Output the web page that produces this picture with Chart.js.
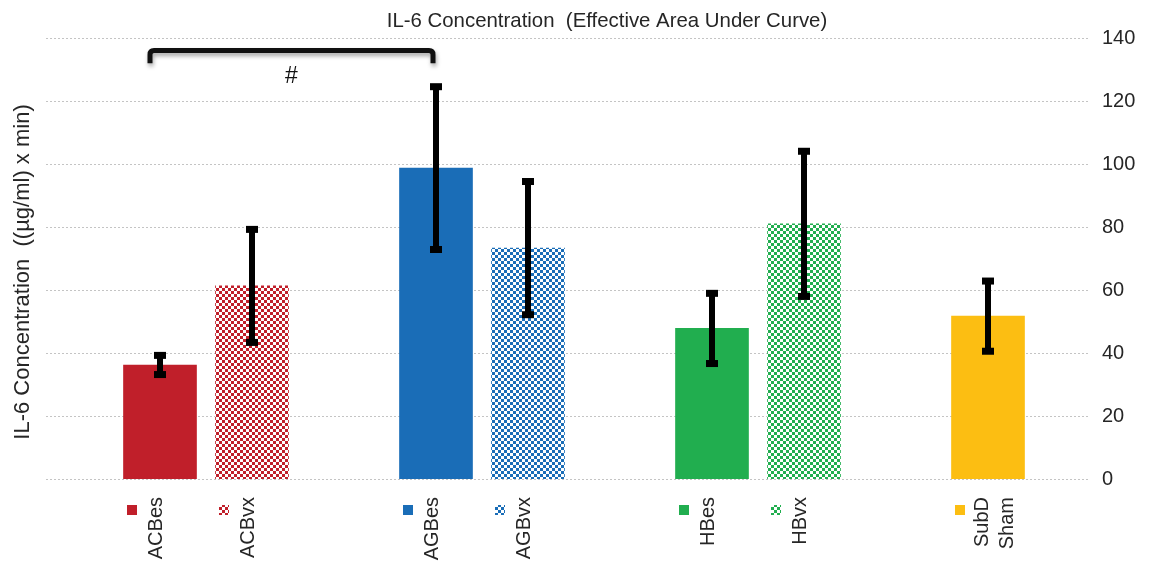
<!DOCTYPE html>
<html>
<head>
<meta charset="utf-8">
<script src="https://cdn.jsdelivr.net/npm/chart.js@4.4.1/dist/chart.umd.min.js"></script>
<style>
  html, body { margin: 0; padding: 0; background: #ffffff; }
  #wrap { width: 1161px; height: 563px; position: relative; }
</style>
</head>
<body>
<div id="wrap"><canvas id="c"></canvas></div>
<script>
// Groups along the x axis (null = empty spacer slot between groups)
const groups = ['ACBes', 'ACBvx', null, 'AGBes', 'AGBvx', null, 'HBes', 'HBvx', null, 'SubD Sham'];
// Mean effective area under curve
const means = [36.2, 61.3, null, 98.7, 73.3, null, 47.8, 81.0, null, 51.7];
// Symmetric error (± value)
const errors = [3.2, 18.1, null, 26.0, 21.3, null, 11.3, 23.2, null, 11.3];
// Fill style per group: solid for "es", checkerboard for "vx"
const baseColors = ['#C01F2A', '#C01F2A', null, '#1A6DB7', '#1A6DB7', null, '#21AE4F', '#21AE4F', null, '#FCBE12'];
const patterned = [false, true, false, false, true, false, false, true, false, false];
const yTicks = [0, 20, 40, 60, 80, 100, 120, 140];
// Significance bracket between two groups
const bracket = { from: 'ACBes', to: 'AGBes', label: '#', top: 136, leg: 132 };

const chartTitle = 'IL-6 Concentration  (Effective Area Under Curve)';
const yTitle = 'IL-6 Concentration  ((\u00B5g/ml) x min)';
const FONT = '"Liberation Sans", Arial, sans-serif';
const TEXT = '#262626';

function checker(color) {
  const t = document.createElement('canvas');
  t.width = 6; t.height = 6;
  const g = t.getContext('2d');
  g.fillStyle = '#ffffff';
  g.fillRect(0, 0, 6, 6);
  g.fillStyle = color;
  g.fillRect(0, 0, 3, 3);
  g.fillRect(3, 3, 3, 3);
  return g.createPattern(t, 'repeat');
}

const fills = baseColors.map((c, i) => c ? (patterned[i] ? checker(c) : c) : 'rgba(0,0,0,0)');

const gridPlugin = {
  id: 'dottedGrid',
  beforeDatasetsDraw(chart) {
    const ctx = chart.ctx, y = chart.scales.y;
    ctx.save();
    ctx.strokeStyle = '#c4c4c4';
    ctx.lineWidth = 1;
    ctx.setLineDash([2, 2]);
    yTicks.forEach(v => {
      const py = Math.round(y.getPixelForValue(v)) + 0.5;
      ctx.beginPath();
      ctx.moveTo(46, py);
      ctx.lineTo(1088, py);
      ctx.stroke();
    });
    ctx.restore();
  }
};

const decorPlugin = {
  id: 'decor',
  afterDatasetsDraw(chart) {
    const ctx = chart.ctx, y = chart.scales.y;
    const meta = chart.getDatasetMeta(0);
    ctx.save();
    // error bars
    ctx.fillStyle = '#000';
    means.forEach((m, i) => {
      if (m == null) return;
      const x = meta.data[i].x;
      const yt = y.getPixelForValue(m + errors[i]);
      const yb = y.getPixelForValue(m - errors[i]);
      ctx.fillRect(x - 3, yt, 6, yb - yt);
      ctx.fillRect(x - 6, yt - 3, 12, 7);
      ctx.fillRect(x - 6, yb - 4, 12, 7);
    });

    // significance bracket
    const xa = meta.data[groups.indexOf(bracket.from)].x - 10;
    const xb = meta.data[groups.indexOf(bracket.to)].x - 3;
    const yTop = y.getPixelForValue(bracket.top);
    const yLeg = y.getPixelForValue(bracket.leg);
    ctx.save();
    ctx.shadowColor = 'rgba(0,0,0,0.35)';
    ctx.shadowBlur = 4;
    ctx.shadowOffsetX = 1;
    ctx.shadowOffsetY = 3;
    ctx.strokeStyle = '#111';
    ctx.lineWidth = 5;
    ctx.lineJoin = 'round';
    ctx.beginPath();
    ctx.moveTo(xa, yLeg);
    ctx.lineTo(xa, yTop + 4);
    ctx.quadraticCurveTo(xa, yTop, xa + 4, yTop);
    ctx.lineTo(xb - 4, yTop);
    ctx.quadraticCurveTo(xb, yTop, xb, yTop + 4);
    ctx.lineTo(xb, yLeg);
    ctx.stroke();
    ctx.restore();
    ctx.fillStyle = '#111';
    ctx.font = '23px ' + FONT;
    ctx.textAlign = 'center';
    ctx.textBaseline = 'middle';
    ctx.fillText(bracket.label, (xa + xb) / 2, yTop + 26);

    // chart title
    ctx.fillStyle = TEXT;
    ctx.font = '20.4px ' + FONT;
    ctx.textAlign = 'center';
    ctx.textBaseline = 'middle';
    ctx.fillText(chartTitle, 607, 21);

    // y axis title (left)
    ctx.save();
    ctx.translate(23, 272);
    ctx.rotate(-Math.PI / 2);
    ctx.font = '22px ' + FONT;
    ctx.textAlign = 'center';
    ctx.textBaseline = 'middle';
    ctx.fillText(yTitle, 0, 0);
    ctx.restore();

    // legend items under each bar
    groups.forEach((name, i) => {
      if (!name) return;
      const cx = meta.data[i].x;
      const lines = name.split(' ');
      ctx.fillStyle = fills[i];
      ctx.fillRect(cx - 33, 505, 10, 10);
      ctx.fillStyle = TEXT;
      ctx.font = '20px ' + FONT;
      ctx.textAlign = 'right';
      ctx.textBaseline = 'alphabetic';
      const base = lines.length > 1 ? cx : cx + 2;
      lines.forEach((ln, k) => {
        ctx.save();
        ctx.translate(base + k * 25, 497);
        ctx.rotate(-Math.PI / 2);
        ctx.fillText(ln, 0, 0);
        ctx.restore();
      });
    });
    ctx.restore();
  }
};

new Chart(document.getElementById('c'), {
  type: 'bar',
  data: {
    labels: groups.map(g => g || ''),
    datasets: [{
      data: means,
      backgroundColor: fills,
      borderWidth: 0,
      barThickness: 73
    }]
  },
  options: {
    responsive: true,
    maintainAspectRatio: false,
    animation: false,
    events: [],
    layout: { padding: { left: 114, top: 38, bottom: 84, right: 0 } },
    plugins: { legend: { display: false }, tooltip: { enabled: false }, title: { display: false } },
    scales: {
      x: { display: false },
      y: {
        position: 'right',
        min: 0,
        max: 140,
        afterFit(axis) {
          axis.width = 127;
          axis.paddingTop = 10;
          axis.paddingBottom = 10;
        },
        afterBuildTicks(axis) { axis.ticks = yTicks.map(v => ({ value: v })); },
        grid: { display: false, drawTicks: false },
        border: { display: false },
        ticks: {
          padding: 68,
          color: TEXT,
          font: { family: FONT, size: 20 }
        }
      }
    }
  },
  plugins: [gridPlugin, decorPlugin]
});
</script>
</body>
</html>
